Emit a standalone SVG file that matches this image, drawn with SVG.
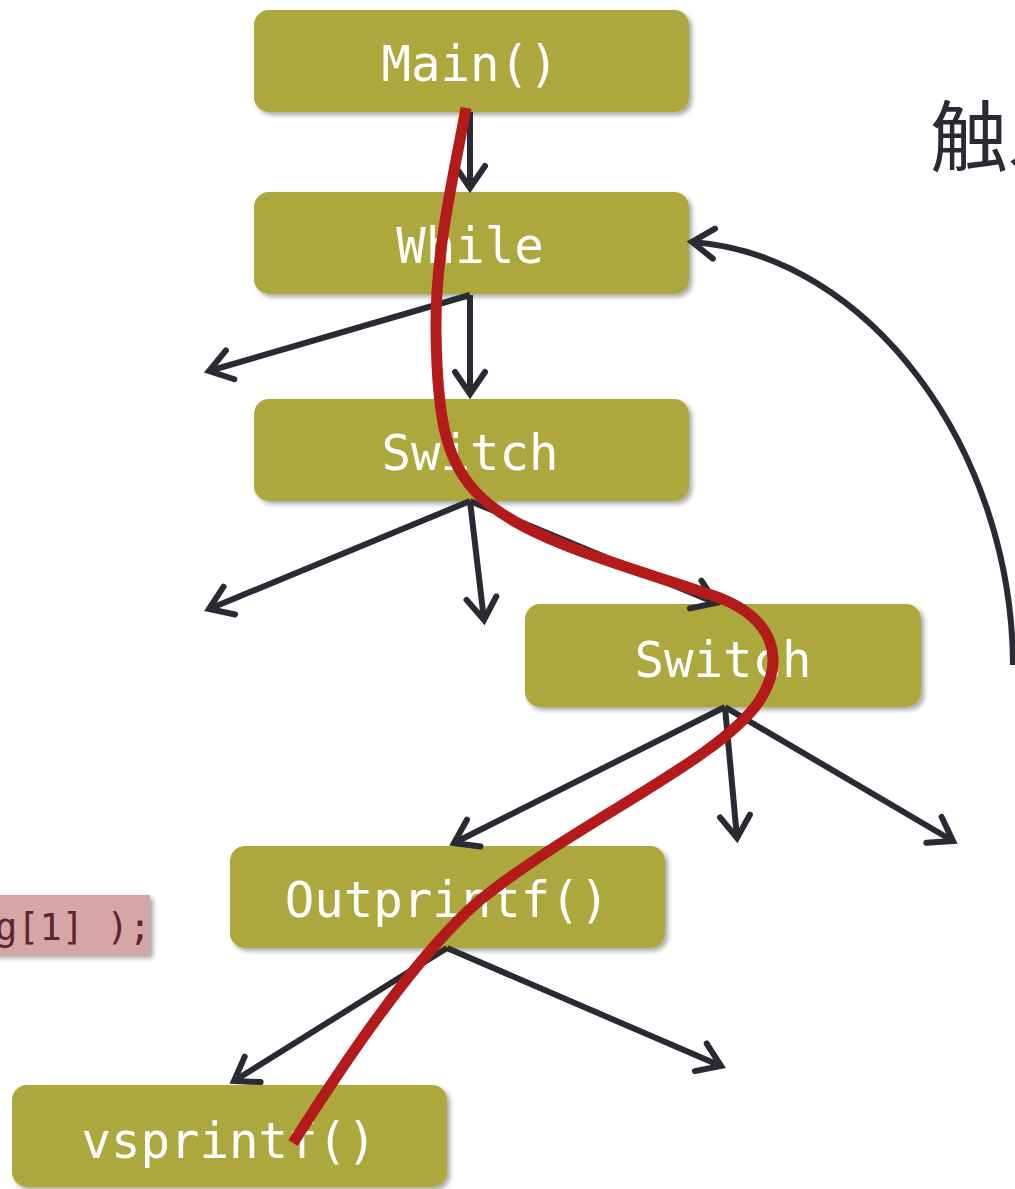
<svg xmlns="http://www.w3.org/2000/svg" width="1015" height="1189" viewBox="0 0 1015 1189">
  <defs>
    <filter id="shadow" x="-10%" y="-20%" width="130%" height="150%">
      <feGaussianBlur in="SourceAlpha" stdDeviation="2.5"/>
      <feOffset dx="3" dy="3" result="b"/>
      <feComponentTransfer><feFuncA type="linear" slope="0.35"/></feComponentTransfer>
      <feMerge><feMergeNode/><feMergeNode in="SourceGraphic"/></feMerge>
    </filter>
    <marker id="head" viewBox="-28 -22 34 44" markerWidth="34" markerHeight="44" refX="0" refY="0" orient="auto" markerUnits="userSpaceOnUse">
      <path d="M-22,-15 L0,0 L-22,15" fill="none" stroke="#2a2a35" stroke-width="6" stroke-linecap="round" stroke-linejoin="miter"/>
    </marker>
    <style>
      .node rect { fill: #aca83c; filter: url(#shadow); }
      .node text { font-family: "DejaVu Sans Mono", "Liberation Mono", monospace; font-size: 49px; fill: #ffffff; text-anchor: middle; }
      .edge { fill: none; stroke: #2a2a35; stroke-width: 6; marker-end: url(#head); }
    </style>
  </defs>
  <rect width="1015" height="1189" fill="#ffffff"/>

  <!-- code fragment on the left -->
  <g id="code">
    <rect x="-10" y="895" width="160" height="60" fill="#d6a6a6" filter="url(#shadow)"/>
    <text x="-5" y="940" font-family="DejaVu Sans Mono, Liberation Mono, monospace" font-size="37" fill="#5c2430">g[1] );</text>
  </g>

  <!-- heading, runs past the right edge -->
  <text x="930" y="166" font-family="Noto Sans CJK SC, sans-serif" font-size="78" fill="#2a2a35">触发</text>

  <g id="n-main" class="node"><rect x="254" y="10" width="435" height="102" rx="15"/><text x="470" y="81">Main()</text></g>
  <g id="n-while" class="node"><rect x="254" y="192" width="435" height="102" rx="15"/><text x="470" y="263">While</text></g>
  <g id="n-switch1" class="node"><rect x="254" y="399" width="435" height="102" rx="15"/><text x="470" y="470">Switch</text></g>
  <g id="n-switch2" class="node"><rect x="525" y="604" width="396" height="103" rx="15"/><text x="723" y="677">Switch</text></g>
  <g id="n-outprintf" class="node"><rect x="230" y="846" width="435" height="102" rx="15"/><text x="447" y="917">Outprintf()</text></g>
  <g id="n-vsprintf" class="node"><rect x="12" y="1085" width="435" height="102" rx="15"/><text x="229" y="1158">vsprintf()</text></g>

  <g id="edges">
    <path class="edge" d="M470,112 L470,188"/>
    <path class="edge" d="M470,295 L209,371"/>
    <path class="edge" d="M470,295 L470,394"/>
    <path class="edge" d="M470,501 L209,609"/>
    <path class="edge" d="M470,501 L484,620"/>
    <path class="edge" d="M470,501 L716,603"/>
    <path class="edge" d="M725,707 L454,843"/>
    <path class="edge" d="M725,707 L737,838"/>
    <path class="edge" d="M725,707 L953,841"/>
    <path class="edge" d="M447,948 L234,1081"/>
    <path class="edge" d="M447,948 L721,1066"/>
    <path class="edge" d="M1013,665 C1012,450 870,255 692,242"/>
  </g>

  <!-- execution trace -->
  <path d="M466,108 C455,170 435,250 436,330 C437,420 445,470 490,505 C540,545 640,570 720,598 C775,620 785,660 760,700 C720,760 580,820 480,900 C410,960 330,1085 293,1143" fill="none" stroke="#b31b1b" stroke-width="11"/>
</svg>
